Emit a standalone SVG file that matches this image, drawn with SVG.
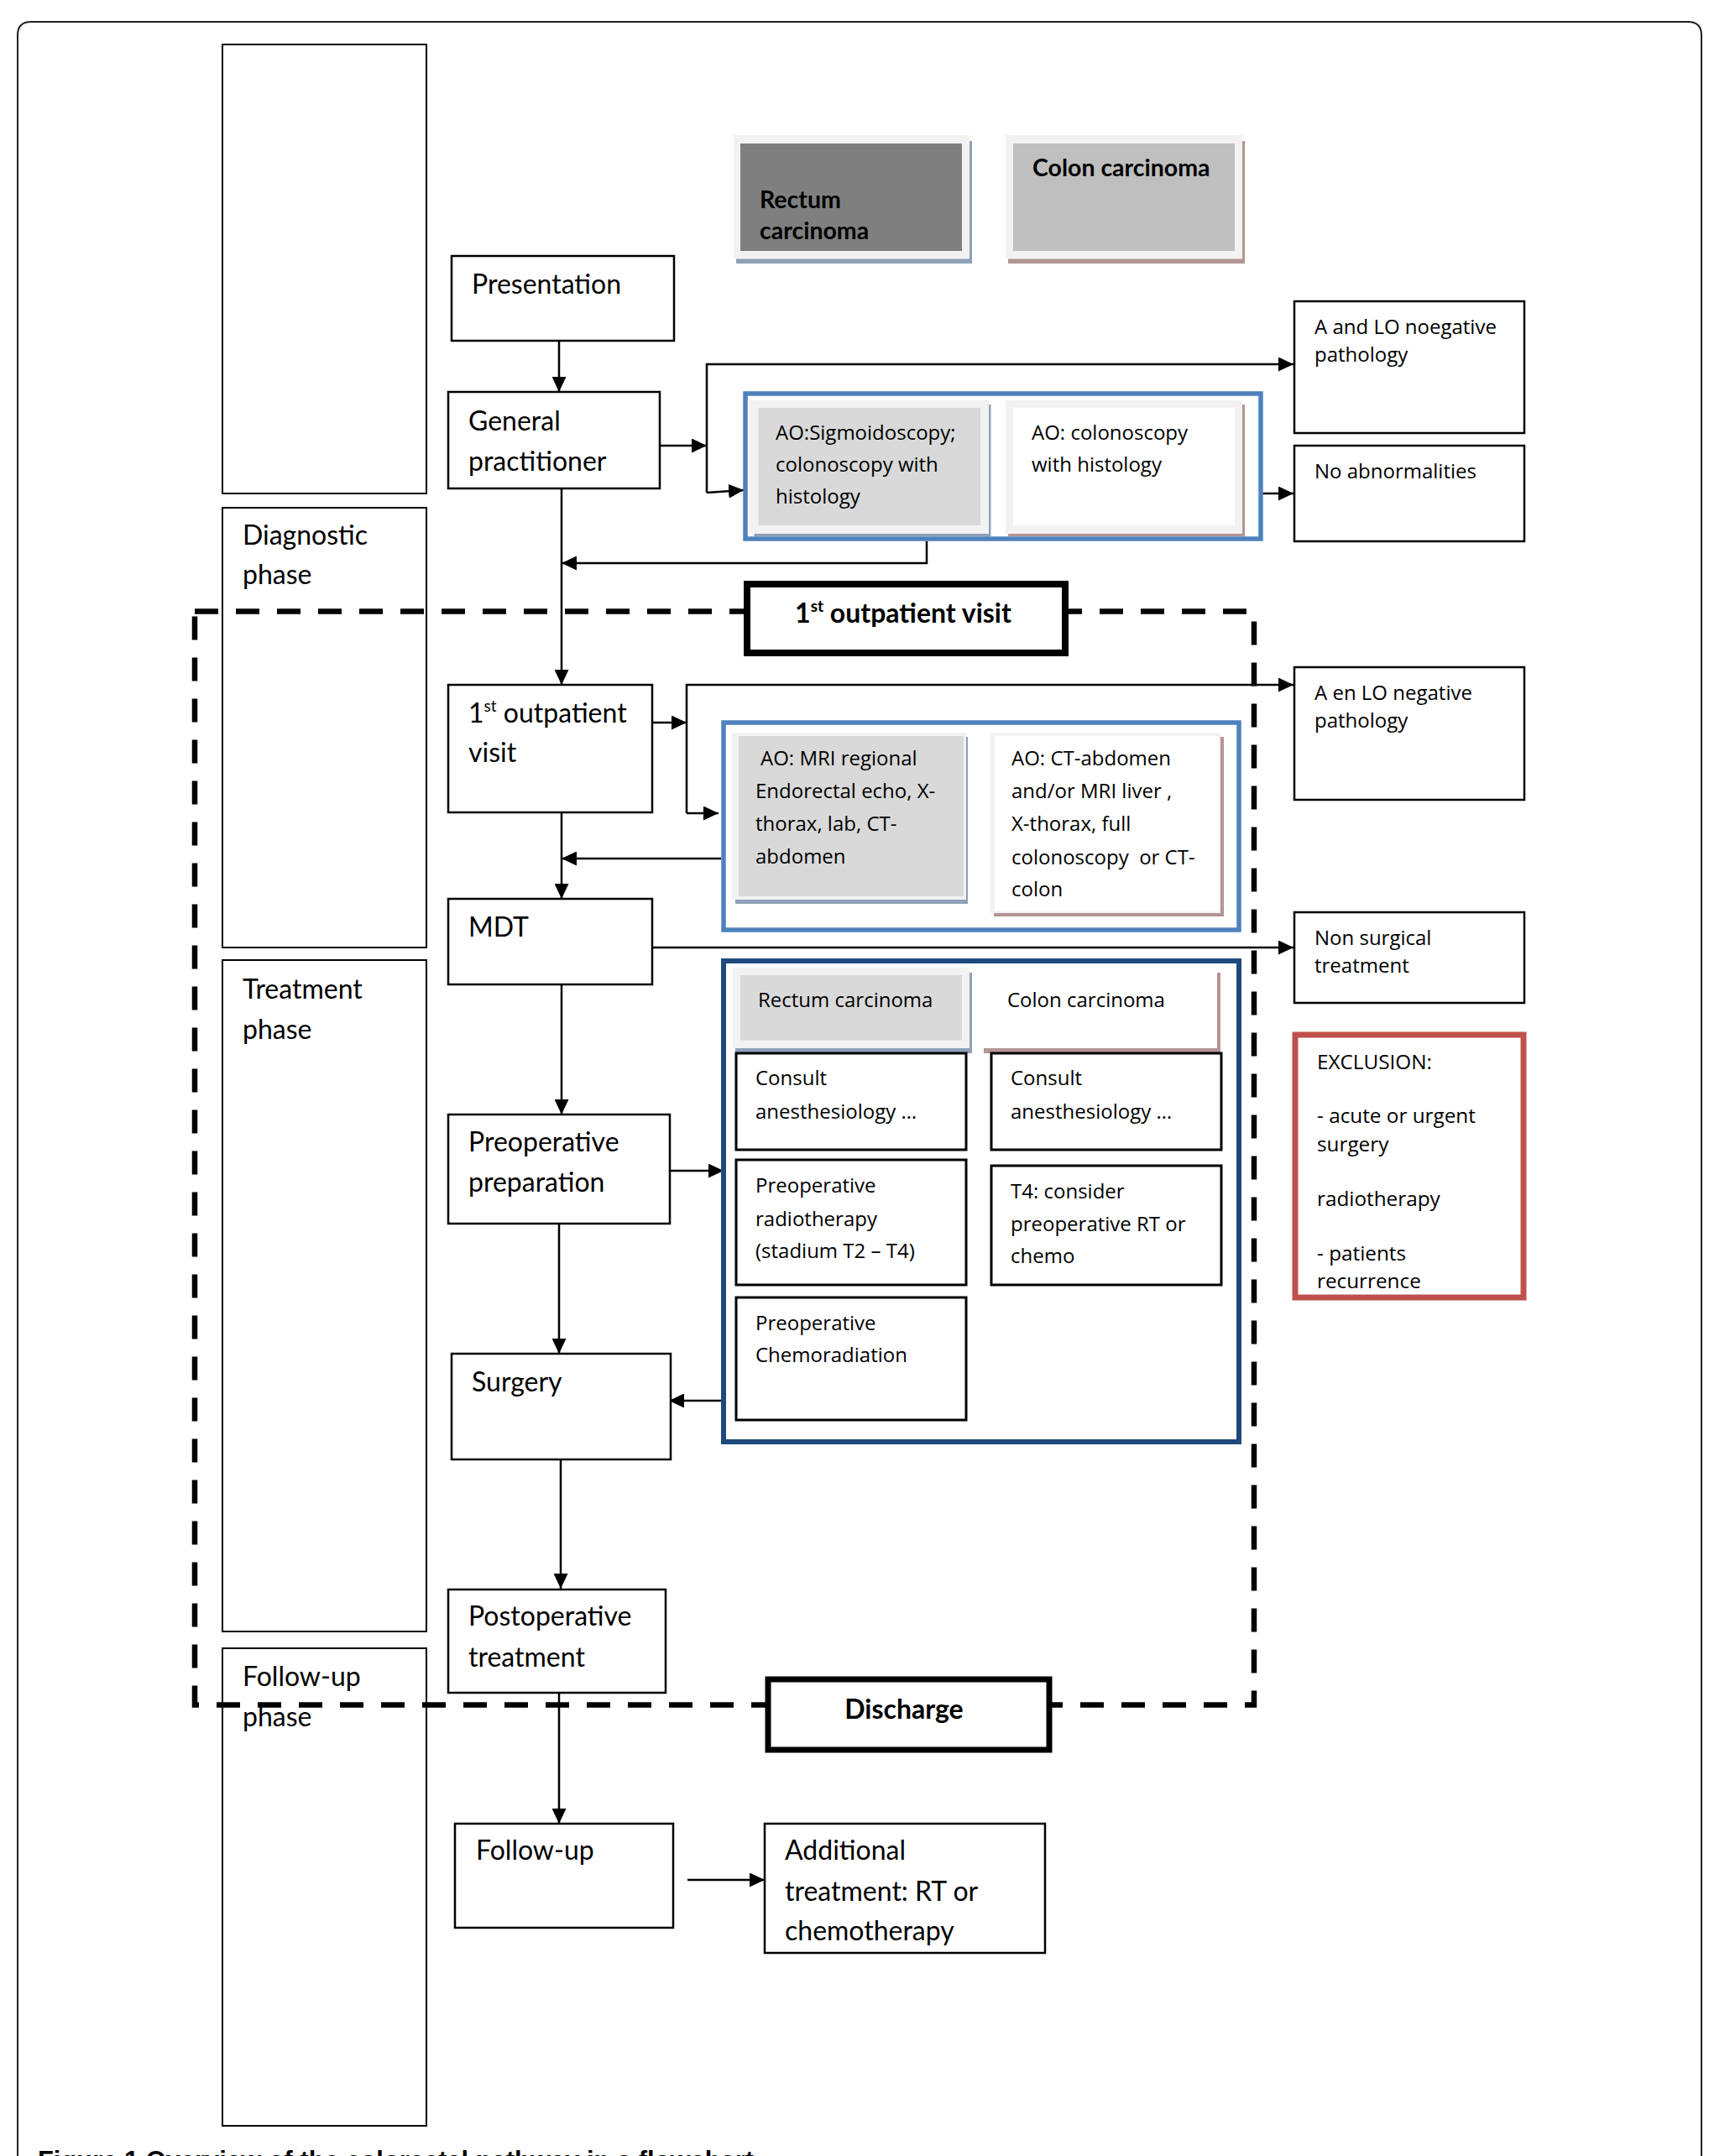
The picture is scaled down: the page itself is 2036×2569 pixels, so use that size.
<svg xmlns="http://www.w3.org/2000/svg" width="2036" height="2569" viewBox="0 0 2036 2569">
<defs>
<style>
.box{fill:#fff;stroke:#000;stroke-width:2.5}
.col{fill:#fff;stroke:#000;stroke-width:2}
.ib{fill:#fff;stroke:#000;stroke-width:3}
.t{font-family:Lato,'Open Sans',sans-serif;font-size:32px;fill:#000}
.s{font-family:'Open Sans',sans-serif;font-size:24px;fill:#000}
.x{font-family:'Open Sans',sans-serif;font-size:24.3px;fill:#000}
.b{font-family:Lato,'Open Sans',sans-serif;font-weight:700;font-size:28.5px;fill:#000}
.bb{font-family:Lato,'Open Sans',sans-serif;font-weight:700;font-size:32px;fill:#000}
.conn{stroke:#000;stroke-width:2.5;fill:none}
.dash{stroke:#000;stroke-width:6.5;fill:none;stroke-dasharray:28 21}
.blue{fill:#fff;stroke:#4f81bd;stroke-width:5.5}
.navy{fill:#fff;stroke:#1f497d;stroke-width:6}
.shb{fill:#8fa0b8}
.shp{fill:#b49494}
.fr{fill:#f2f2f2}
</style>
<marker id="ah" markerUnits="userSpaceOnUse" markerWidth="18" markerHeight="17" refX="18" refY="8.5" orient="auto">
<path d="M0,0 L18,8.5 L0,17 z" fill="#000"/>
</marker>
</defs>
<rect width="2036" height="2569" fill="#fff"/>
<path d="M21,2569 V42 Q21,26 37,26 H2011 Q2027,26 2027,42 V2569" fill="none" stroke="#222" stroke-width="2"/>

<g id="phase-columns">
<g id="col-empty"><rect class="col" x="265" y="53" width="243" height="535"/></g>
<g id="col-diagnostic"><rect class="col" x="265" y="605" width="243" height="524"/>
<text class="t" x="289" y="649">Diagnostic</text><text class="t" x="289" y="696">phase</text></g>
<g id="col-treatment"><rect class="col" x="265" y="1144" width="243" height="800"/>
<text class="t" x="289" y="1190">Treatment</text><text class="t" x="289" y="1238">phase</text></g>
<g id="col-followup"><rect class="col" x="265" y="1964" width="243" height="569"/>
<text class="t" x="289" y="2009">Follow-up</text><text class="t" x="289" y="2057">phase</text></g>
</g>

<g id="dashed-frame"><rect class="dash" x="232" y="728.5" width="1262" height="1303"/></g>

<g id="legend-rectum">
<rect class="shb" x="877" y="168" width="281" height="146"/>
<rect class="fr" x="874" y="161" width="281" height="147.5"/>
<rect x="882" y="171" width="264" height="128" fill="#7f7f7f"/>
<text class="b" x="905" y="248">Rectum</text><text class="b" x="905" y="285">carcinoma</text>
</g>
<g id="legend-colon">
<rect class="shp" x="1201" y="168" width="282" height="146"/>
<rect class="fr" x="1198" y="161" width="282" height="147.5"/>
<rect x="1207" y="171" width="264" height="128" fill="#bfbfbf"/>
<text class="b" x="1230" y="210">Colon carcinoma</text>
</g>

<g id="connectors">
<line class="conn" x1="666" y1="406" x2="666" y2="467" marker-end="url(#ah)"/>
<line class="conn" x1="786" y1="531" x2="842" y2="531" marker-end="url(#ah)"/>
<polyline class="conn" points="842,587 842,434 1541,434" marker-end="url(#ah)"/>
<line class="conn" x1="842" y1="587" x2="886" y2="584" marker-end="url(#ah)"/>
<line class="conn" x1="1504" y1="588" x2="1541" y2="588" marker-end="url(#ah)"/>
<polyline class="conn" points="1104,645 1104,671 669,671" marker-end="url(#ah)"/>
<line class="conn" x1="669" y1="582" x2="669" y2="816" marker-end="url(#ah)"/>
<line class="conn" x1="763" y1="861" x2="818" y2="861" marker-end="url(#ah)"/>
<polyline class="conn" points="818,969 818,816 1541,816" marker-end="url(#ah)"/>
<line class="conn" x1="818" y1="969" x2="856" y2="969" marker-end="url(#ah)"/>
<line class="conn" x1="859" y1="1023" x2="669" y2="1023" marker-end="url(#ah)"/>
<line class="conn" x1="669" y1="968" x2="669" y2="1071" marker-end="url(#ah)"/>
<line class="conn" x1="777" y1="1129" x2="1541" y2="1129" marker-end="url(#ah)"/>
<line class="conn" x1="669" y1="1173" x2="669" y2="1328" marker-end="url(#ah)"/>
<line class="conn" x1="793" y1="1395" x2="862" y2="1395" marker-end="url(#ah)"/>
<line class="conn" x1="666" y1="1458" x2="666" y2="1613" marker-end="url(#ah)"/>
<line class="conn" x1="862" y1="1669" x2="797" y2="1669" marker-end="url(#ah)"/>
<line class="conn" x1="668" y1="1739" x2="668" y2="1893" marker-end="url(#ah)"/>
<line class="conn" x1="666" y1="2017" x2="666" y2="2173" marker-end="url(#ah)"/>
<line class="conn" x1="819" y1="2240" x2="911" y2="2240" marker-end="url(#ah)"/>
</g>

<g id="banner-outpatient">
<rect x="890" y="696" width="379" height="82" fill="#fff" stroke="#000" stroke-width="8"/>
<text class="bb" x="1076" y="742" text-anchor="middle">1<tspan font-size="19" dy="-13">st</tspan><tspan dy="13"> outpatient visit</tspan></text>
</g>
<g id="banner-discharge">
<rect x="915" y="2001" width="335" height="84" fill="#fff" stroke="#000" stroke-width="7"/>
<text class="bb" x="1077" y="2048" text-anchor="middle">Discharge</text>
</g>

<g id="node-presentation"><rect class="box" x="538" y="305" width="265" height="101"/>
<text class="t" x="562" y="350">Presentation</text></g>
<g id="node-gp"><rect class="box" x="534" y="467" width="252" height="115"/>
<text class="t" x="558" y="513">General</text><text class="t" x="558" y="561">practitioner</text></g>

<g id="node-ao-diagnostic">
<rect class="blue" x="888" y="469" width="614" height="173"/>
<rect class="shb" x="898.5" y="482" width="282" height="157"/>
<rect class="fr" x="893" y="477" width="285" height="159"/>
<rect x="903.5" y="486" width="264.5" height="140" fill="#d9d9d9"/>
<text class="s" x="924" y="524">AO:Sigmoidoscopy;</text>
<text class="s" x="924" y="562">colonoscopy with</text>
<text class="s" x="924" y="600">histology</text>
<rect class="shp" x="1201" y="482" width="282" height="157"/>
<rect class="fr" x="1198" y="477" width="282" height="159"/>
<rect x="1207" y="486" width="264" height="140" fill="#fff"/>
<text class="s" x="1229" y="524">AO: colonoscopy</text>
<text class="s" x="1229" y="562">with histology</text>
</g>

<g id="node-a-lo-1"><rect class="box" x="1542" y="359" width="274" height="157"/>
<text class="s" x="1566" y="398">A and LO noegative</text><text class="s" x="1566" y="431">pathology</text></g>
<g id="node-no-abn"><rect class="box" x="1542" y="531" width="274" height="114"/>
<text class="s" x="1566" y="570">No abnormalities</text></g>

<g id="node-outpatient"><rect class="box" x="534" y="816" width="243" height="152"/>
<text class="t" x="558" y="861">1<tspan font-size="19" dy="-13">st</tspan><tspan dy="13"> outpatient</tspan></text>
<text class="t" x="558" y="908">visit</text></g>

<g id="node-ao-staging">
<rect class="blue" x="862" y="861" width="614" height="247"/>
<rect class="shb" x="876" y="878" width="277" height="199"/>
<rect class="fr" x="872" y="873" width="279" height="199"/>
<rect x="880" y="877" width="268" height="191" fill="#d9d9d9"/>
<text class="s" x="906" y="912">AO: MRI regional</text>
<text class="s" x="900" y="951">Endorectal echo, X-</text>
<text class="s" x="900" y="990">thorax, lab, CT-</text>
<text class="s" x="900" y="1029">abdomen</text>
<rect class="shp" x="1184" y="878" width="274" height="214"/>
<rect class="fr" x="1180" y="873" width="274" height="215"/>
<rect x="1185" y="877" width="267" height="209" fill="#fff"/>
<text class="s" x="1205" y="912">AO: CT-abdomen</text>
<text class="s" x="1205" y="951">and/or MRI liver ,</text>
<text class="s" x="1205" y="990">X-thorax, full</text>
<text class="s" x="1205" y="1030" xml:space="preserve">colonoscopy  or CT-</text>
<text class="s" x="1205" y="1068">colon</text>
</g>

<g id="node-a-lo-2"><rect class="box" x="1542" y="795" width="274" height="158"/>
<text class="s" x="1566" y="834">A en LO negative</text><text class="s" x="1566" y="867">pathology</text></g>

<g id="node-mdt"><rect class="box" x="534" y="1071" width="243" height="102"/>
<text class="t" x="558" y="1116">MDT</text></g>

<g id="node-non-surgical"><rect class="box" x="1542" y="1087" width="274" height="108"/>
<text class="s" x="1566" y="1126">Non surgical</text><text class="s" x="1566" y="1159">treatment</text></g>

<g id="node-exclusion">
<rect x="1543" y="1233" width="272" height="313" fill="#fff" stroke="#c0504d" stroke-width="7"/>
<text class="x" x="1569" y="1274">EXCLUSION:</text>
<text class="x" x="1569" y="1338">- acute or urgent</text>
<text class="x" x="1569" y="1372">surgery</text>
<text class="x" x="1569" y="1437">radiotherapy</text>
<text class="x" x="1569" y="1502">- patients</text>
<text class="x" x="1569" y="1535">recurrence</text>
</g>

<g id="node-preop"><rect class="box" x="534" y="1328" width="264" height="130"/>
<text class="t" x="558" y="1372">Preoperative</text><text class="t" x="558" y="1420">preparation</text></g>

<g id="node-preop-options">
<rect class="navy" x="862" y="1145" width="614" height="573"/>
<rect class="shb" x="876" y="1159" width="282" height="96"/>
<rect class="fr" x="873" y="1153" width="282" height="96"/>
<rect x="882" y="1162" width="264" height="77.5" fill="#d9d9d9"/>
<text class="s" x="903" y="1200">Rectum carcinoma</text>
<rect class="shp" x="1172" y="1159" width="282" height="96"/>
<rect x="1166" y="1150" width="284" height="99" fill="#fff"/>
<text class="s" x="1200" y="1200">Colon carcinoma</text>
<rect class="ib" x="877" y="1255" width="274" height="115"/>
<text class="s" x="900" y="1293">Consult</text><text class="s" x="900" y="1333">anesthesiology …</text>
<rect class="ib" x="1181" y="1255" width="274" height="115"/>
<text class="s" x="1204" y="1293">Consult</text><text class="s" x="1204" y="1333">anesthesiology …</text>
<rect class="ib" x="877" y="1382" width="274" height="149"/>
<text class="s" x="900" y="1421">Preoperative</text><text class="s" x="900" y="1461">radiotherapy</text><text class="s" x="900" y="1499">(stadium T2 – T4)</text>
<rect class="ib" x="1181" y="1389" width="274" height="142"/>
<text class="s" x="1204" y="1428">T4: consider</text><text class="s" x="1204" y="1467">preoperative RT or</text><text class="s" x="1204" y="1505">chemo</text>
<rect class="ib" x="877" y="1546" width="274" height="146"/>
<text class="s" x="900" y="1585">Preoperative</text><text class="s" x="900" y="1623">Chemoradiation</text>
</g>

<g id="node-surgery"><rect class="box" x="538" y="1613" width="261" height="126"/>
<text class="t" x="562" y="1658">Surgery</text></g>
<g id="node-postop"><rect class="box" x="534" y="1894" width="259" height="123"/>
<text class="t" x="558" y="1937">Postoperative</text><text class="t" x="558" y="1986">treatment</text></g>
<g id="node-followup"><rect class="box" x="542" y="2173" width="260" height="124"/>
<text class="t" x="567" y="2216">Follow-up</text></g>
<g id="node-additional"><rect class="box" x="911" y="2173" width="334" height="154"/>
<text class="t" x="935" y="2216">Additional</text><text class="t" x="935" y="2265">treatment: RT or</text><text class="t" x="935" y="2312">chemotherapy</text></g>

<text x="45" y="2585" font-family="'Liberation Sans',Arial,sans-serif" font-weight="700" font-size="32" textLength="853" lengthAdjust="spacingAndGlyphs">Figure 1 Overview of the colorectal pathway in a flowchart</text>
</svg>
